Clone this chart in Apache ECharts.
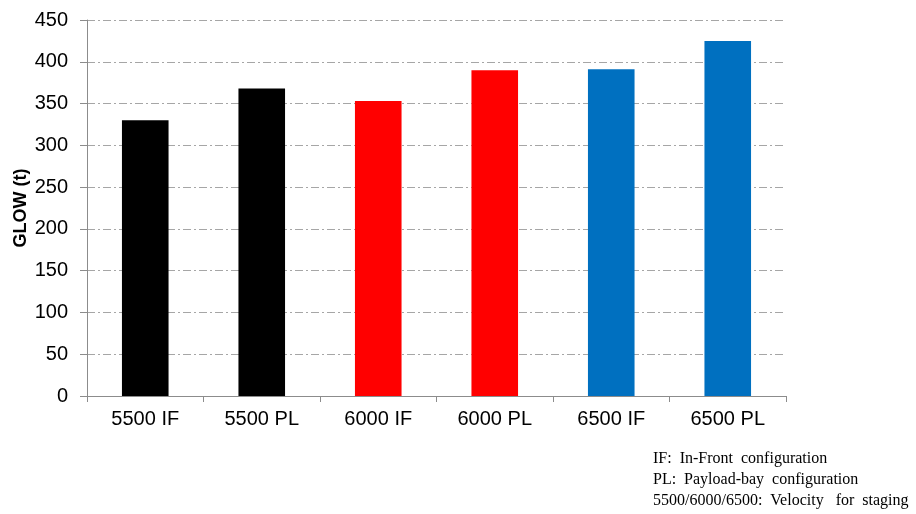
<!DOCTYPE html>
<html>
<head>
<meta charset="utf-8">
<script src="https://cdn.jsdelivr.net/npm/echarts@6/dist/echarts.min.js"></script>
<style>html,body{margin:0;padding:0;background:#fff}#c{width:916px;height:514px}</style>
</head>
<body>
<div id="c"></div>
<script>
const categories = ['5500 IF', '5500 PL', '6000 IF', '6000 PL', '6500 IF', '6500 PL'];
const glowValues = [330, 368, 353, 390, 391, 425];
const barColors = ['#000000', '#000000', '#ff0000', '#ff0000', '#0070c0', '#0070c0'];
const yTicks = { min: 0, max: 450, interval: 50 };
const notes = ['IF:  In-Front  configuration', 'PL:  Payload-bay  configuration', '5500/6000/6500:  Velocity   for  staging'];

const chart = echarts.init(document.getElementById('c'));
chart.setOption({
  animation: false,
  grid: { left: 87, right: 130, top: 20, bottom: 118, containLabel: false },
  xAxis: {
    type: 'category',
    data: categories,
    axisLine: { lineStyle: { color: '#8c8c8c', width: 1 } },
    axisTick: { show: true, length: 6, lineStyle: { color: '#8c8c8c' } },
    axisLabel: { color: '#000', fontFamily: 'Liberation Sans, Arial', fontSize: 20, margin: 13 }
  },
  yAxis: {
    type: 'value',
    min: yTicks.min, max: yTicks.max, interval: yTicks.interval,
    name: 'GLOW (t)',
    nameLocation: 'middle',
    nameGap: 57,
    nameMoveOverlap: false,
    nameRotate: 90,
    nameTextStyle: { color: '#000', fontFamily: 'Liberation Sans, Arial', fontSize: 18, fontWeight: 'bold' },
    axisLine: { show: true, lineStyle: { color: '#8c8c8c', width: 1 } },
    axisTick: { show: true, length: 7, lineStyle: { color: '#8c8c8c' } },
    axisLabel: { color: '#000', fontFamily: 'Liberation Sans, Arial', fontSize: 20, margin: 19 },
    splitLine: { show: true, lineStyle: { color: '#a6a6a6', width: 1, type: [8, 3, 2, 3] } }
  },
  series: [{
    type: 'bar',
    barWidth: '40%',
    data: glowValues.map((v, i) => ({ value: v, itemStyle: { color: barColors[i] } }))
  }],
  graphic: notes.map((t, i) => ({
    type: 'text',
    left: 653,
    top: 451 + i * 21,
    style: { text: t, font: '16px "Liberation Serif", "Times New Roman", serif', fill: '#000' }
  }))
});
</script>
</body>
</html>
